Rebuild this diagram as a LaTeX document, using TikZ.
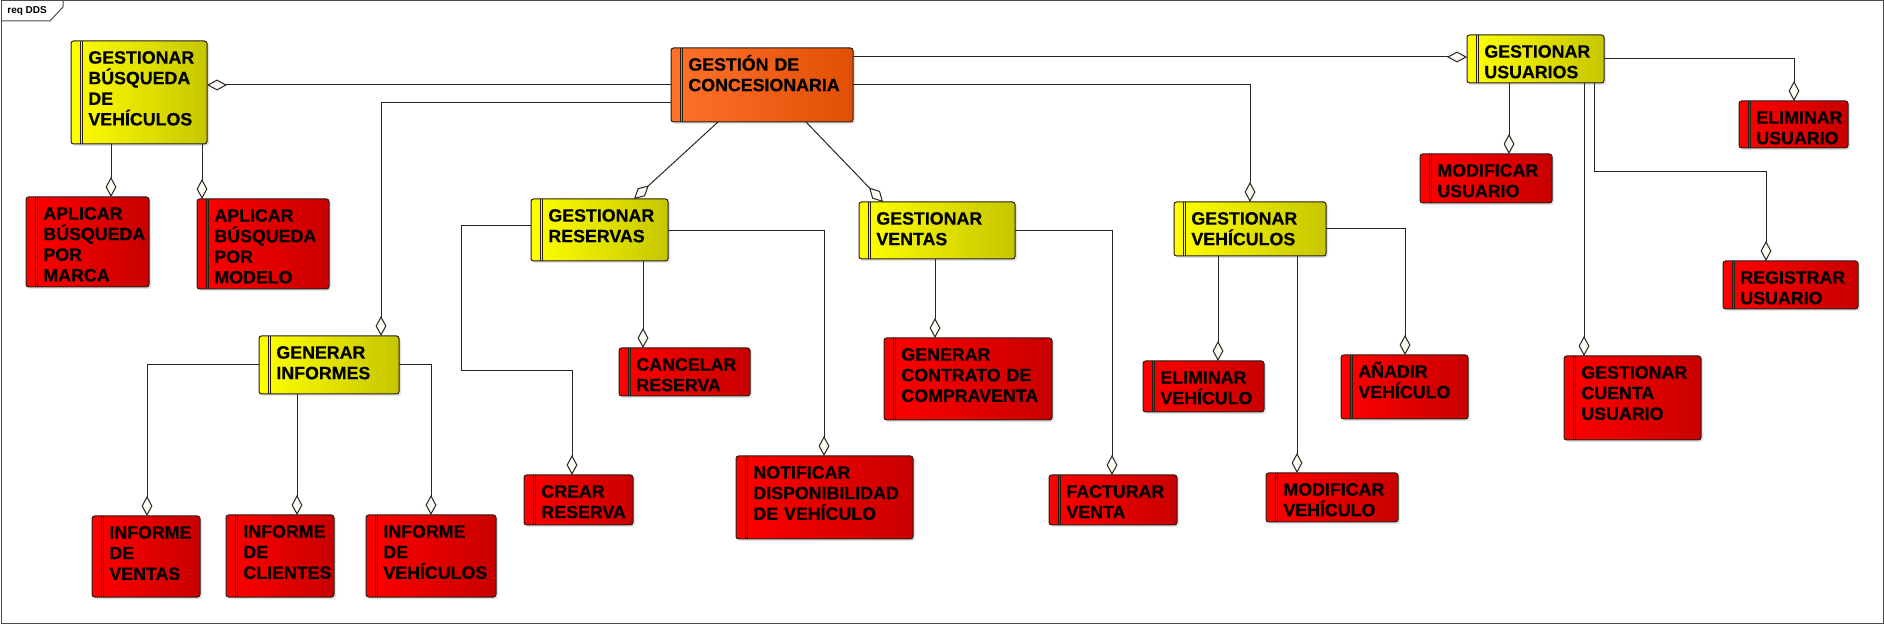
\documentclass[tikz,border=0pt]{standalone}
\usepackage{fontspec}
\setmainfont{Liberation Sans}
\newfontfamily\boxfont{Liberation Sans Bold}[FakeBold=0.5]
\usetikzlibrary{arrows.meta,shadows,calc}
\definecolor{yelL}{RGB}{255,255,0}
\definecolor{yelR}{RGB}{198,198,0}
\definecolor{oraL}{RGB}{255,114,42}
\definecolor{oraR}{RGB}{226,78,6}
\definecolor{redL}{RGB}{255,0,0}
\definecolor{redR}{RGB}{200,0,0}
\definecolor{diafill}{RGB}{255,250,240}
\definecolor{edge}{RGB}{40,30,20}
\newcommand\reqbox[7]{%
  \node[#1, minimum width=#5*0.5pt, minimum height=#6*0.5pt] (#2) at (#3,#4) {};
  \node[boxtext] (#2-t) at ([xshift=8.5pt,yshift=-11.3pt]#2.north west) {#7};}
\begin{document}
\begin{tikzpicture}[x=0.5pt,y=-0.5pt,
  basebox/.style={draw=edge, line width=0.5pt, rounded corners=1.3pt, anchor=north west,
    outer sep=0pt, inner sep=0pt,
    drop shadow={shadow xshift=1pt, shadow yshift=-1pt, opacity=0.22},
    path picture={\draw[edge, line width=0.5pt]
      ([xshift=4.5pt]path picture bounding box.north west) -- ([xshift=4.5pt]path picture bounding box.south west)
      ([xshift=5.8pt]path picture bounding box.north west) -- ([xshift=5.8pt]path picture bounding box.south west);}},
  ybox/.style={basebox, left color=yelL, right color=yelR},
  obox/.style={basebox, left color=oraL, right color=oraR},
  rbox/.style={basebox, left color=redL, right color=redR},
  boxtext/.style={anchor=base west, inner sep=0pt, text width=120pt, align=left,
    font=\boxfont\fontsize{8.9pt}{10.3pt}\selectfont},
  frame/.style={draw=black!70, line width=0.5pt},
  agg/.style={draw=black!85, line width=0.5pt, -{Diamond[length=10pt,width=5.4pt,fill=diafill]}}]
\useasboundingbox (0,0) rectangle (1884,624);
\fill[white] (0,0) rectangle (1884,624);
\draw[frame] (1,1) rectangle (1883,623);
\draw[frame] (1,21) -- (50,21) -- (63,7) -- (63,1);
\node[anchor=base west, inner sep=0pt, font=\bfseries\fontsize{5pt}{6pt}\selectfont] (tab) at (7,14) {req DDS};

\reqbox{ybox}{GBV}{71}{41}{136}{103}{GESTIONAR\\BÚSQUEDA\\DE\\VEHÍCULOS}
\reqbox{obox}{GC}{671}{48}{182}{74}{GESTIÓN DE\\CONCESIONARIA}
\reqbox{rbox}{MAR}{26}{197}{123}{90}{APLICAR\\BÚSQUEDA\\POR\\MARCA}
\reqbox{rbox}{MOD}{197}{199}{132}{90}{APLICAR\\BÚSQUEDA\\POR\\MODELO}
\reqbox{ybox}{GI}{259}{336}{140}{58}{GENERAR\\INFORMES}
\reqbox{rbox}{IV}{92}{516}{108}{81}{INFORME\\DE\\VENTAS}
\reqbox{rbox}{IC}{226}{515}{108}{82}{INFORME\\DE\\CLIENTES}
\reqbox{rbox}{IVE}{366}{515}{130}{82}{INFORME\\DE\\VEHÍCULOS}
\reqbox{ybox}{GR}{531}{199}{137}{62}{GESTIONAR\\RESERVAS}
\reqbox{rbox}{CAN}{619}{348}{131}{48}{CANCELAR\\RESERVA}
\reqbox{rbox}{CRE}{524}{475}{109}{50}{CREAR\\RESERVA}
\reqbox{rbox}{NOT}{736}{456}{177}{83}{NOTIFICAR\\DISPONIBILIDAD\\DE VEHÍCULO}
\reqbox{ybox}{GV}{859}{202}{156}{57}{GESTIONAR\\VENTAS}
\reqbox{rbox}{GCC}{884}{338}{168}{82}{GENERAR\\CONTRATO DE\\COMPRAVENTA}
\reqbox{rbox}{FAC}{1049}{475}{128}{50}{FACTURAR\\VENTA}
\reqbox{ybox}{GVE}{1174}{202}{152}{54}{GESTIONAR\\VEHÍCULOS}
\reqbox{rbox}{ELV}{1143}{361}{121}{51}{ELIMINAR\\VEHÍCULO}
\reqbox{rbox}{MOV}{1266}{473}{132}{49}{MODIFICAR\\VEHÍCULO}
\reqbox{rbox}{ANV}{1341}{355}{127}{64}{AÑADIR\\VEHÍCULO}
\reqbox{ybox}{GU}{1467}{35}{137}{48}{GESTIONAR\\USUARIOS}
\reqbox{rbox}{MOU}{1420}{154}{132}{49}{MODIFICAR\\USUARIO}
\reqbox{rbox}{ELU}{1739}{101}{109}{47}{ELIMINAR\\USUARIO}
\reqbox{rbox}{REU}{1723}{261}{135}{48}{REGISTRAR\\USUARIO}
\reqbox{rbox}{GCU}{1564}{356}{137}{84}{GESTIONAR\\CUENTA\\USUARIO}

\draw[agg] (GC.west |- 0,85) -- (GBV.east |- 0,85);
\draw[agg] (GBV.south -| 111,0) -- (MAR.north -| 111,0);
\draw[agg] (GBV.south -| 202,0) -- (MOD.north -| 202,0);
\draw[agg] (GC.west |- 0,103) -| (GI.north -| 381,0);
\draw[agg] (GI.west |- 0,365) -| (IV.north -| 147,0);
\draw[agg] (GI.south -| 297,0) -- (IC.north -| 297,0);
\draw[agg] (GI.east |- 0,365) -| (IVE.north -| 431,0);
\draw[agg] (GC.south -| 718,0) -- (GR.north -| 634,0);
\draw[agg] (GC.south -| 806,0) -- (GV.north -| 883,0);
\draw[agg] (GR.south -| 643,0) -- (CAN.north -| 643,0);
\draw[agg] (GR.west |- 0,226) -| (461,371) -| (CRE.north -| 572,0);
\draw[agg] (GR.east |- 0,231) -| (NOT.north -| 824,0);
\draw[agg] (GV.south -| 935,0) -- (GCC.north -| 935,0);
\draw[agg] (GV.east |- 0,231) -| (FAC.north -| 1112,0);
\draw[agg] (GC.east |- 0,85) -| (GVE.north -| 1250,0);
\draw[agg] (GVE.south -| 1218,0) -- (ELV.north -| 1218,0);
\draw[agg] (GVE.south -| 1297,0) -- (MOV.north -| 1297,0);
\draw[agg] (GVE.east |- 0,229) -| (ANV.north -| 1405,0);
\draw[agg] (GC.east |- 0,57) -- (GU.west |- 0,57);
\draw[agg] (GU.south -| 1509,0) -- (MOU.north -| 1509,0);
\draw[agg] (GU.south -| 1584,0) -- (GCU.north -| 1584,0);
\draw[agg] (GU.south -| 1594,0) |- (1766,172) -- (REU.north -| 1766,0);
\draw[agg] (GU.east |- 0,59) -| (ELU.north -| 1794,0);
\end{tikzpicture}
\end{document}
